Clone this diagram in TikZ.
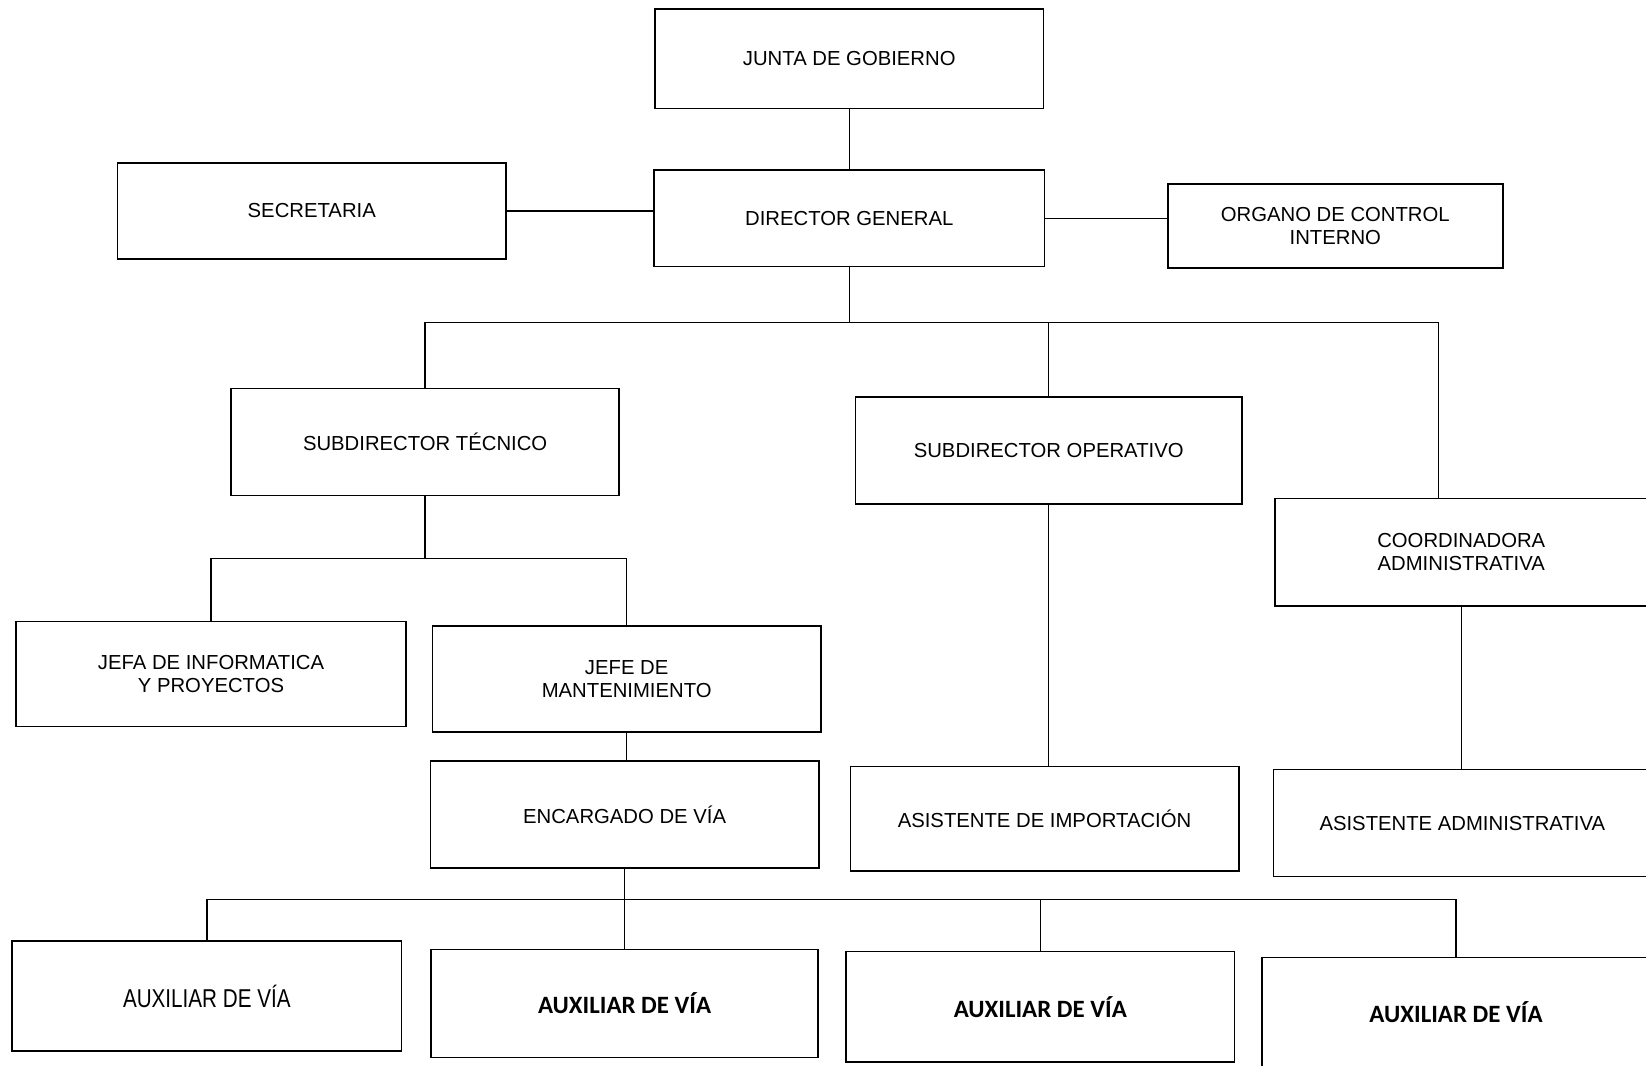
\documentclass[tikz,border=0pt]{standalone}
\usepackage{fontspec}
\setmainfont{Liberation Sans}
\newfontfamily\carlito{Carlito}
\newfontfamily\narrowfont[FakeStretch=0.8]{Liberation Sans}
\usepackage{tikz}

\begin{document}
\begin{tikzpicture}[x=0.02cm,y=-0.02cm,
    box/.style={draw, line width=0.9pt, align=center, inner sep=2pt,
                font=\fontsize{11}{12.5}\selectfont},
    auxbox/.style={box, font=\carlito\bfseries\fontsize{13.5}{15}\selectfont},
    link/.style={line width=0.8pt}]
    \useasboundingbox (0,0) rectangle (1568,1015);

%   direccion
    \node[box, minimum width=7.4cm, minimum height=1.9cm] (junta) at (809,56) {JUNTA DE GOBIERNO};
    \node[box, minimum width=7.44cm, minimum height=1.84cm] (director) at (809,208) {DIRECTOR GENERAL};
    \node[box, minimum width=7.4cm, minimum height=1.84cm] (secretaria) at (297,201) {SECRETARIA};
    \node[box, minimum width=6.38cm, minimum height=1.6cm] (organo) at (1272,215) {ORGANO DE CONTROL\\INTERNO};

%   subdirecciones
    \node[box, minimum width=7.4cm, minimum height=2.04cm] (subtec) at (405,421) {SUBDIRECTOR TÉCNICO};
    \node[box, minimum width=7.36cm, minimum height=2.04cm] (subop) at (999,429) {SUBDIRECTOR OPERATIVO};
    \node[box, minimum width=7.1cm, minimum height=2.04cm] (coord) at (1392,526) {COORDINADORA\\ADMINISTRATIVA};

%   jefaturas
    \node[box, minimum width=7.44cm, minimum height=2.0cm] (jefa) at (201,642) {JEFA DE INFORMATICA\\Y PROYECTOS};
    \node[box, minimum width=7.4cm, minimum height=2.02cm] (jefe) at (597,647) {JEFE DE\\MANTENIMIENTO};
    \node[box, minimum width=7.4cm, minimum height=2.04cm] (encargado) at (595,776) {ENCARGADO DE VÍA};
    \node[box, minimum width=7.4cm, minimum height=2.0cm] (asisimp) at (995,780) {ASISTENTE DE IMPORTACIÓN};
    \node[box, minimum width=7.2cm, minimum height=2.04cm] (asisadm) at (1393,784) {ASISTENTE ADMINISTRATIVA};

%   auxiliares
    \node[box, minimum width=7.42cm, minimum height=2.1cm, font=\narrowfont\fontsize{14}{16}\selectfont] (aux1) at (197,949) {AUXILIAR DE VÍA};
    \node[auxbox, minimum width=7.38cm, minimum height=2.06cm] (aux2) at (595,956) {AUXILIAR DE VÍA};
    \node[auxbox, minimum width=7.4cm, minimum height=2.1cm] (aux3) at (991,959) {AUXILIAR DE VÍA};
    \node[auxbox, minimum width=7.4cm, minimum height=2.08cm] (aux4) at (1387,964) {AUXILIAR DE VÍA};

%   lineas
    \coordinate (busA) at (809,307);
    \coordinate (busB) at (405,532);
    \coordinate (busC) at (595,857);

    \draw[link] (junta.south) -- (junta.south |- director.north);
    \draw[link] (secretaria.east) -- (secretaria.east -| director.west);
    \draw[link] (director.east) -- (director.east -| organo.west);

    \draw[link] (director.south) -- (busA);
    \draw[link] (busA) -| (subtec.north);
    \draw[link] (busA) -| ([xshift=-0.43cm]coord.north);
    \draw[link] (busA -| subop.north) -- (subop.north);

    \draw[link] (subtec.south) -- (busB);
    \draw[link] (busB) -| (jefa.north);
    \draw[link] (busB) -| (jefe.north);
    \draw[link] (jefe.south) -- (jefe.south |- encargado.north);

    \draw[link] (subop.south) -- (subop.south |- asisimp.north);
    \draw[link] (coord.south) -- (coord.south |- asisadm.north);

    \draw[link] (encargado.south) -- (busC);
    \draw[link] (busC) -| (aux1.north);
    \draw[link] (busC) -| (aux4.north);
    \draw[link] (busC) -- (aux2.north);
    \draw[link] (busC -| aux3.north) -- (aux3.north);
\end{tikzpicture}
\end{document}
